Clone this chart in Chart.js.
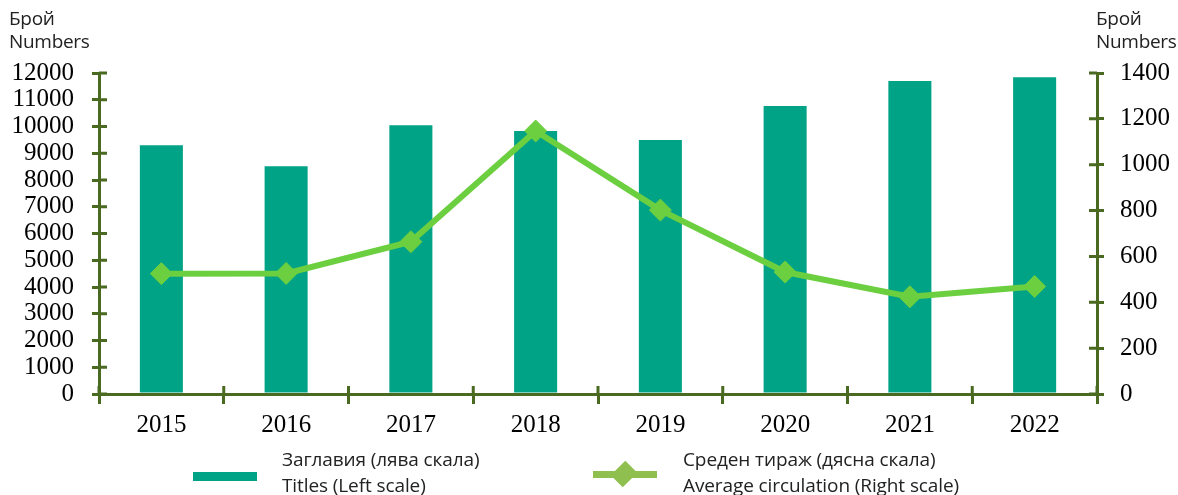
<!DOCTYPE html>
<html>
<head>
<meta charset="utf-8">
<script src="https://cdn.jsdelivr.net/npm/chart.js@4/dist/chart.umd.min.js"></script>
<style>
  html, body { margin: 0; padding: 0; background: #fff; }
  #wrap { position: relative; width: 1178px; height: 495px; overflow: hidden; }
  #wrap canvas { position: absolute; left: 0; top: 0; }
  .axt { position: absolute; font-family: "Open Sans", "Noto Sans", sans-serif; font-size: 19px; line-height: 23px; color: #222; letter-spacing: -0.3px; }
  .leg { position: absolute; font-family: "Open Sans", "Noto Sans", sans-serif; font-size: 19px; line-height: 26px; color: #222; letter-spacing: -0.1px; }
</style>
</head>
<body>
<div id="wrap">
  <canvas id="c" width="1178" height="495"></canvas>
  <div class="axt" style="left:9px; top:7px;">Брой<br>Numbers</div>
  <div class="axt" style="left:1096px; top:7px;">Брой<br>Numbers</div>

  <div style="position:absolute; left:193px; top:472px; width:64px; height:9px; background:#00a386;"></div>
  <div class="leg" style="left:282px; top:446px;">Заглавия (лява скала)<br>Titles (Left scale)</div>

  <div style="position:absolute; left:593px; top:471px; width:64px; height:7px; background:#8fc04f;"></div>
  <div style="position:absolute; left:615px; top:465px; width:18px; height:18px; background:#8fc04f; transform:rotate(45deg) scale(0.95,1.15);"></div>
  <div class="leg" style="left:683px; top:446px;">Среден тираж (дясна скала)<br>Average circulation (Right scale)</div>
</div>
<script>
var years = ["2015", "2016", "2017", "2018", "2019", "2020", "2021", "2022"];
var titles = [9300, 8510, 10050, 9830, 9500, 10770, 11700, 11840];
var circulation = [525, 526, 664, 1147, 802, 532, 424, 469];

var axisColor = "#4b6a21";
var tealColor = "#00a386";
var lineColor = "#6ccf40";

// short tick marks on the inner side of each axis
var innerTicks = {
  id: "innerTicks",
  afterDraw: function (chart) {
    var ctx = chart.ctx;
    var area = chart.chartArea;
    ctx.save();
    ctx.strokeStyle = axisColor;
    ctx.lineWidth = 3;
    ctx.beginPath();
    chart.scales.y.ticks.forEach(function (t) {
      var py = chart.scales.y.getPixelForValue(t.value);
      ctx.moveTo(area.left, py);
      ctx.lineTo(area.left + 8, py);
    });
    chart.scales.y1.ticks.forEach(function (t) {
      var py = chart.scales.y1.getPixelForValue(t.value);
      ctx.moveTo(area.right - 8, py);
      ctx.lineTo(area.right, py);
    });
    for (var i = 0; i <= years.length; i++) {
      var px = chart.scales.x.getPixelForValue(i - 0.5);
      ctx.moveTo(px, area.bottom - 8);
      ctx.lineTo(px, area.bottom);
    }
    ctx.stroke();
    ctx.restore();
  }
};

var tickFont = { family: "'Liberation Serif', 'DejaVu Serif', serif", size: 25 };
var plain = function (v) { return String(v); };

new Chart(document.getElementById("c"), {
  type: "bar",
  data: {
    labels: years,
    datasets: [
      {
        type: "line",
        label: "Среден тираж (дясна скала)",
        data: circulation,
        yAxisID: "y1",
        borderColor: lineColor,
        borderWidth: 6,
        backgroundColor: lineColor,
        pointStyle: "rectRot",
        pointRadius: 11,
        pointBorderWidth: 1,
        pointBackgroundColor: lineColor,
        pointBorderColor: lineColor,
        tension: 0,
        order: 0
      },
      {
        type: "bar",
        label: "Заглавия (лява скала)",
        data: titles,
        yAxisID: "y",
        backgroundColor: tealColor,
        barPercentage: 0.345,
        categoryPercentage: 1,
        order: 1
      }
    ]
  },
  options: {
    responsive: false,
    animation: false,
    layout: { padding: { top: 73, left: 0, right: 0, bottom: 0 } },
    plugins: {
      legend: { display: false },
      tooltip: { enabled: false },
      title: { display: false }
    },
    scales: {
      x: {
        grid: { display: true, offset: true, drawOnChartArea: false, color: axisColor, lineWidth: 3, tickLength: 10 },
        border: { color: axisColor, width: 3 },
        ticks: { color: "#000", font: tickFont, padding: 6 },
        afterFit: function (s) { s.height = 101; }
      },
      y: {
        position: "left",
        min: 0,
        max: 12000,
        grid: { drawOnChartArea: false, color: axisColor, lineWidth: 3, tickLength: 7 },
        border: { color: axisColor, width: 3 },
        ticks: { stepSize: 1000, autoSkip: false, color: "#000", font: tickFont, padding: 18, callback: plain },
        afterFit: function (s) { s.width = 99; }
      },
      y1: {
        position: "right",
        min: 0,
        max: 1400,
        grid: { drawOnChartArea: false, color: axisColor, lineWidth: 3, tickLength: 7 },
        border: { color: axisColor, width: 3 },
        ticks: { stepSize: 200, autoSkip: false, color: "#000", font: tickFont, padding: 16, callback: plain },
        afterFit: function (s) { s.width = 81; }
      }
    }
  },
  plugins: [innerTicks]
});
</script>
</body>
</html>
